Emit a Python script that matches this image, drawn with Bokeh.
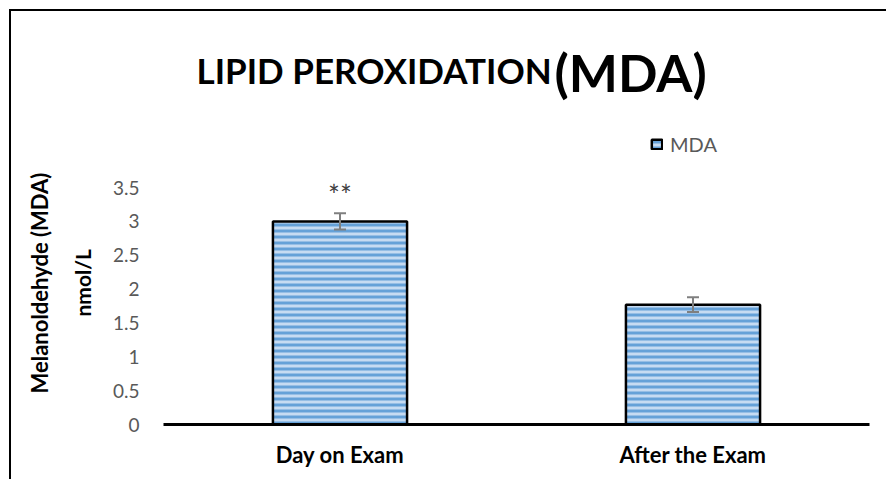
import math
from bokeh.plotting import figure
from bokeh.models import (ColumnDataSource, FactorRange, Range1d, FixedTicker,
                          Whisker, TeeHead, Label, Title)
from bokeh.core.properties import value
from bokeh.embed import file_html
from bokeh.resources import INLINE

# ---- data ----
categories = ["Day on Exam", "After the Exam"]
mda_values = [3.0, 1.77]
mda_errors = [0.12, 0.11]
significance = ["**", ""]
y_ticks = [0, 0.5, 1, 1.5, 2, 2.5, 3, 3.5]
series_name = "MDA"
title_main = "LIPID PEROXIDATION"
title_tail = "(MDA)"
y_label_lines = ["Melanoldehyde (MDA)", "nmol/L"]

src = ColumnDataSource(data=dict(
    cat=categories,
    val=mda_values,
    upper=[v + e for v, e in zip(mda_values, mda_errors)],
    lower=[v - e for v, e in zip(mda_values, mda_errors)],
    sig=significance,
    sig_y=[v + e + 0.27 for v, e in zip(mda_values, mda_errors)],
))

FONT = "Lato"

p = figure(width=877, height=470, x_range=FactorRange(*categories, range_padding=0),
           y_range=Range1d(0, 6.10), output_backend="svg", toolbar_location=None,
           min_border_left=152, min_border_right=19, min_border_top=0, min_border_bottom=57)
p.styles = {"margin-left": "9px", "margin-top": "9px",
            "border-left": "2px solid #000000", "border-top": "2px solid #000000"}
p.outline_line_color = None
p.xgrid.grid_line_color = None
p.ygrid.grid_line_color = None
p.background_fill_color = "white"
p.border_fill_color = "white"

p.vbar(x="cat", top="val", width=0.38, source=src,
       fill_color="#c6dbf2", line_color="black", line_width=2.5,
       hatch_pattern="horizontal_line", hatch_color="#5b9bd5",
       hatch_scale=6, hatch_weight=3, hatch_alpha=0.9,
       legend_label=series_name)

p.add_layout(Whisker(source=src, base="cat", upper="upper", lower="lower",
                     line_color="#7f7f7f", line_width=2, level="overlay",
                     upper_head=TeeHead(size=12, line_color="#7f7f7f", line_width=2),
                     lower_head=TeeHead(size=12, line_color="#7f7f7f", line_width=2)))

p.text(x="cat", y="sig_y", text="sig", source=src, text_align="center",
       text_baseline="middle", text_font=value(FONT), text_font_size="28px",
       text_color="#404040")

# y axis
p.yaxis.ticker = FixedTicker(ticks=y_ticks)
p.yaxis.axis_line_color = None
p.yaxis.major_tick_line_color = None
p.yaxis.minor_tick_line_color = None
p.yaxis.major_label_standoff = 18
p.yaxis.major_label_text_font = FONT
p.yaxis.major_label_text_font_size = "19px"
p.yaxis.major_label_text_color = "#595959"

# y axis title: two rotated lines on the left side
p.add_layout(Title(text=y_label_lines[1], align="left", offset=108, standoff=30,
                   text_font=FONT, text_font_style="bold", text_font_size="21px",
                   text_color="black"), "left")
p.add_layout(Title(text=y_label_lines[0], align="left", offset=31, standoff=0,
                   text_font=FONT, text_font_style="bold", text_font_size="22px",
                   text_color="black"), "left")

# x axis
p.xaxis.axis_line_color = "black"
p.xaxis.axis_line_width = 3
p.xaxis.major_tick_line_color = None
p.xaxis.minor_tick_line_color = None
p.xaxis.major_label_standoff = 10
p.xaxis.major_label_text_font = FONT
p.xaxis.major_label_text_font_style = "bold"
p.xaxis.major_label_text_font_size = "22px"
p.xaxis.major_label_text_color = "black"

# legend
lg = p.legend[0]
lg.location = (487, 268)
lg.border_line_color = None
lg.background_fill_alpha = 0
lg.padding = 0
lg.margin = 0
lg.glyph_width = 13
lg.glyph_height = 12
lg.label_standoff = 7
lg.label_text_font = FONT
lg.label_text_font_size = "20px"
lg.label_text_color = "#595959"

# chart title (x in screen px from frame left, y in data units)
p.add_layout(Label(x=33, x_units="screen", y=5.23, y_units="data", text=title_main,
                   text_font=FONT, text_font_style="bold", text_font_size="35px",
                   text_color="black", text_align="left", text_baseline="middle"))
p.add_layout(Label(x=391, x_units="screen", y=5.2, y_units="data", text=title_tail,
                   text_font=FONT, text_font_style="bold", text_font_size="52px",
                   text_color="black", text_align="left", text_baseline="middle"))

open("out.html", "w").write(file_html(p, INLINE))
